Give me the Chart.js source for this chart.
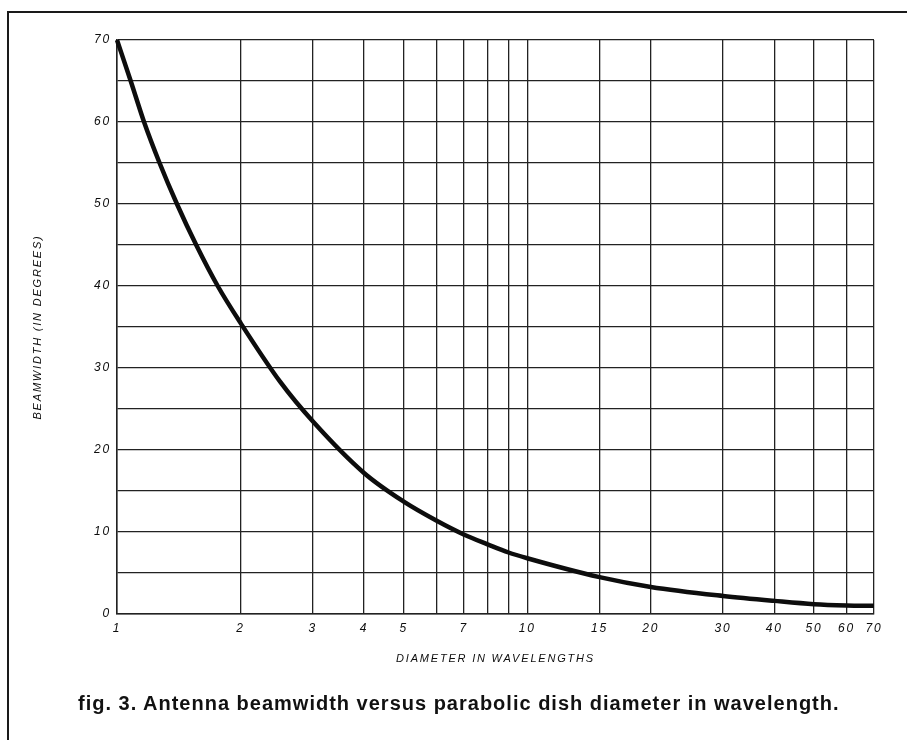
<!DOCTYPE html>
<html>
<head>
<meta charset="utf-8">
<title>Antenna beamwidth</title>
<script src="https://cdn.jsdelivr.net/npm/chart.js@4.4.1/dist/chart.umd.min.js"></script>
<style>
  body { margin: 0; background: #fff; }
  #wrap { position: relative; width: 907px; height: 740px; overflow: hidden; background: #fff; }
  #frame {
    position: absolute; left: 7px; top: 11px; width: 920px; height: 760px;
    border-top: 2px solid #1a1a1a; border-left: 2px solid #1a1a1a;
  }
  #beamChart { position: absolute; left: 0; top: 0; }
  #caption {
    position: absolute; left: 78px; top: 693px;
    font: bold 20px "Liberation Sans", Arial, sans-serif;
    letter-spacing: 1px; line-height: 20px; color: #111; white-space: nowrap;
  }
</style>
</head>
<body>
<div id="wrap">
  <div id="frame"></div>
  <canvas id="beamChart" width="907" height="740"></canvas>
  <div id="caption">fig. 3. Antenna beamwidth versus parabolic dish diameter in wavelength.</div>
</div>
<script>
// curve: beamwidth (deg) against dish diameter (wavelengths)
const diameters = [1, 1.08, 1.164, 1.27, 1.4, 1.56, 1.76, 2, 2.5, 3, 4, 5, 6, 7, 8, 9, 10, 15, 20, 30, 40, 50, 60, 70];
const beamwidths = [70, 65, 60, 55, 50, 45, 40, 35.5, 28.3, 23.5, 17.2, 13.7, 11.4, 9.7, 8.5, 7.5, 6.8, 4.5, 3.3, 2.2, 1.6, 1.2, 1.05, 1.0];

// log grid on x, only some of the lines carry a label
const gridDiameters = [1, 2, 3, 4, 5, 6, 7, 8, 9, 10, 15, 20, 30, 40, 50, 60, 70];
const xTickLabels = ["1", "2", "3", "4", "5", "", "7", "", "", "10", "15", "20", "30", "40", "50", "60", "70"];
const yTickLabels = ["0", "10", "20", "30", "40", "50", "60", "70"];

const inkColor = "#0d0d0d";
const gridColor = "#222";
const fontFamily = "'Liberation Sans', Arial, sans-serif";
const tickFont = { family: fontFamily, style: "italic", size: 12 };
const titleFont = { family: fontFamily, style: "italic", size: 11 };

// wide letter spacing for the axis texts
const spacedText = {
  id: "spacedText",
  beforeDraw(chart) {
    chart.ctx.letterSpacing = "1.8px";
  },
  beforeDatasetsDraw(chart) {
    chart.ctx.letterSpacing = "0px";
  },
};

function initChart() {
  const ctx = document.getElementById("beamChart").getContext("2d");
  new Chart(ctx, {
    type: "line",
    data: {
      datasets: [
        {
          label: "Beamwidth",
          data: diameters.map((d, i) => ({ x: d, y: beamwidths[i] })),
          borderColor: inkColor,
          borderWidth: 4.5,
          pointRadius: 0,
          cubicInterpolationMode: "monotone",
          fill: false,
          clip: false,
        },
      ],
    },
    options: {
      responsive: false,
      animation: false,
      layout: { padding: { top: 40, right: 33, bottom: 0, left: 0 } },
      plugins: {
        legend: { display: false },
        tooltip: { enabled: false },
      },
      scales: {
        x: {
          type: "logarithmic",
          min: 1,
          max: 70,
          afterBuildTicks(scale) {
            scale.ticks = gridDiameters.map((v) => ({ value: v }));
          },
          afterFit(scale) {
            scale.height = 126;
          },
          grid: { color: gridColor, lineWidth: 1.3, drawTicks: false },
          border: { color: gridColor, width: 1.5 },
          ticks: {
            autoSkip: false,
            maxRotation: 0,
            padding: 7,
            color: inkColor,
            font: tickFont,
            callback: (v) => {
              const i = gridDiameters.indexOf(v);
              return i >= 0 ? xTickLabels[i] : "";
            },
          },
          title: {
            display: true,
            text: "DIAMETER IN WAVELENGTHS",
            color: inkColor,
            font: titleFont,
            padding: { top: 0, bottom: 74 },
          },
        },
        y: {
          min: 0,
          max: 70,
          afterFit(scale) {
            scale.width = 117;
          },
          grid: { color: gridColor, lineWidth: 1.3, drawTicks: false },
          border: { color: gridColor, width: 1.5 },
          ticks: {
            stepSize: 5,
            autoSkip: false,
            padding: 6,
            color: inkColor,
            font: tickFont,
            callback: (v) => (yTickLabels.includes(String(v)) ? String(v) : ""),
          },
          title: {
            display: true,
            text: "BEAMWIDTH (IN DEGREES)",
            color: inkColor,
            font: titleFont,
            padding: { top: 31, bottom: 0 },
          },
        },
      },
    },
    plugins: [spacedText],
  });
}

window.onload = initChart;
</script>
</body>
</html>
